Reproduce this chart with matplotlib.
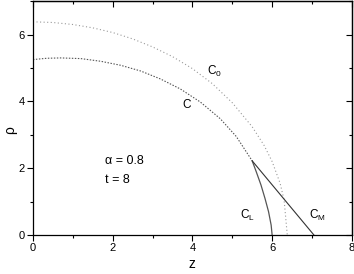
import matplotlib
matplotlib.use("Agg")
import matplotlib.pyplot as plt
from matplotlib.ticker import MultipleLocator

plt.rcParams["font.family"] = ["Liberation Sans", "DejaVu Sans"]
plt.rcParams["mathtext.fontset"] = "custom"
plt.rcParams["mathtext.rm"] = "Liberation Sans"
plt.rcParams["mathtext.it"] = "Liberation Sans"

# curve C0 (outer, light dotted)
c0_z = [0, 0.5, 1.0, 1.5, 2.0, 2.5, 3.0, 3.5, 4.0, 4.5, 5.0, 5.5, 5.8, 6.0, 6.2, 6.3, 6.38]
c0_r = [6.38, 6.36, 6.30, 6.20, 6.06, 5.87, 5.63, 5.34, 4.98, 4.53, 3.96, 3.24, 2.68, 2.20, 1.55, 1.05, 0.0]
# curve C (inner, dark dotted)
c_z = [0, 0.35, 0.7, 1.2, 1.7, 2.2, 2.7, 3.2, 3.7, 4.2, 4.7, 5.1, 5.5]
c_r = [5.25, 5.29, 5.30, 5.28, 5.20, 5.08, 4.91, 4.67, 4.37, 3.98, 3.48, 2.95, 2.22]
# curve CL (solid)
cl_z = [5.5, 5.6, 5.72, 5.82, 5.91, 5.975, 6.0]
cl_r = [2.22, 1.9, 1.5, 1.1, 0.7, 0.3, 0.0]
# line CM
cm_z = [5.5, 7.05]
cm_r = [2.22, 0.0]

fig = plt.figure(figsize=(3.54, 2.74), dpi=100)
ax = fig.add_axes([0.093, 0.142, 0.901, 0.854])

ax.plot(c0_z, c0_r, color="#9a9a9a", lw=0.8, ls=(0, (1, 2.2)))
ax.plot(c_z, c_r, color="#555555", lw=0.8, ls=(0, (1.3, 1.4)))
ax.plot(cl_z, cl_r, color="#555555", lw=0.9)
ax.plot(cm_z, cm_r, color="#333333", lw=0.8)

ax.text(4.37, 4.9, r"C$_\mathrm{0}$", fontsize=8.5, va="center")
ax.text(3.74, 3.89, "C", fontsize=8.5, va="center")
ax.text(5.2, 0.59, r"C$_\mathrm{L}$", fontsize=8.5, va="center")
ax.text(6.93, 0.59, r"C$_\mathrm{M}$", fontsize=8.5, va="center")
ax.text(1.8, 2.23, "\u03b1 = 0.8", fontsize=9, va="center")
ax.text(1.8, 1.66, "t = 8", fontsize=9, va="center")

ax.set_xlim(0, 8)
ax.set_ylim(0, 7)
for axis in (ax.xaxis, ax.yaxis):
    axis.set_major_locator(MultipleLocator(2))
    axis.set_minor_locator(MultipleLocator(1))
ax.tick_params(which="both", direction="out", width=0.8, labelsize=8, pad=2)
ax.tick_params(which="major", length=4)
ax.tick_params(which="minor", length=2.5)
for sp in ax.spines.values():
    sp.set_linewidth(0.9)

# inward ticks on the top and right frame
top = ax.secondary_xaxis("top")
right = ax.secondary_yaxis("right")
for axis in (top.xaxis, right.yaxis):
    axis.set_major_locator(MultipleLocator(2))
    axis.set_minor_locator(MultipleLocator(1))
for sec in (top, right):
    sec.tick_params(which="both", direction="in", width=0.8,
                    labeltop=False, labelright=False)
    sec.tick_params(which="major", length=4)
    sec.tick_params(which="minor", length=2.5)
    for sp in sec.spines.values():
        sp.set_linewidth(0.9)

fig.text(0.028, 0.525, "\u03c1", fontsize=10, rotation=90, ha="center", va="center")
fig.text(0.542, 0.035, "z", fontsize=10, ha="center", va="center")

fig.savefig("out.png", dpi=100)
